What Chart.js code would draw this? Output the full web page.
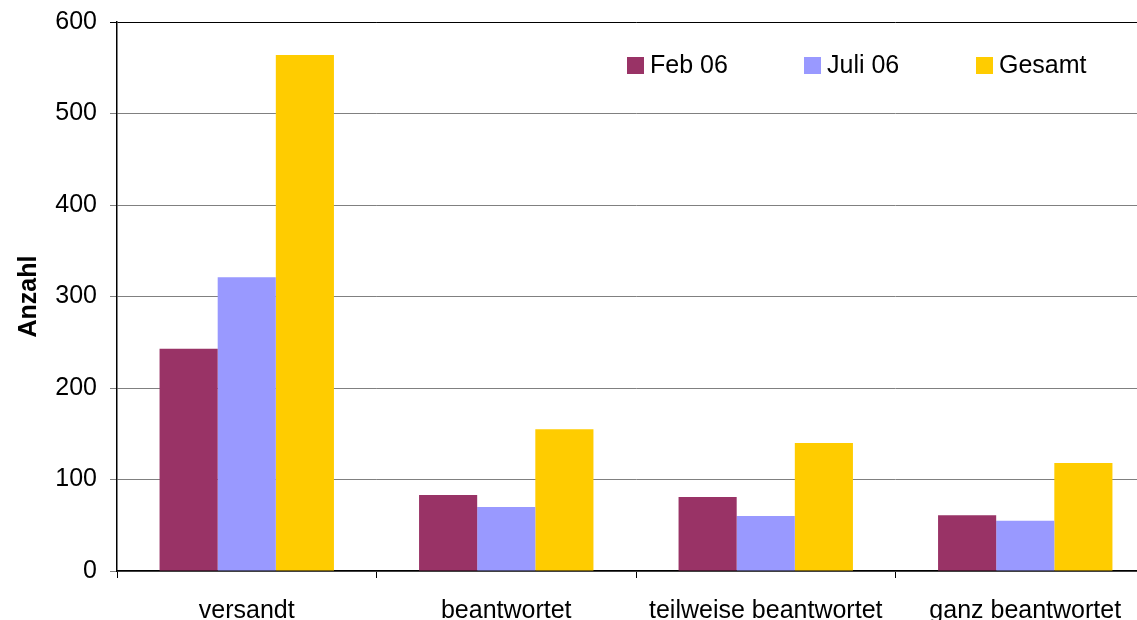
<!DOCTYPE html>
<html>
<head>
<meta charset="utf-8">
<script src="https://cdn.jsdelivr.net/npm/chart.js@4/dist/chart.umd.min.js"></script>
<style>
  html, body { margin: 0; padding: 0; overflow: hidden; background: #fff; }
  #wrap { width: 1137px; height: 620px; overflow: hidden; }
  canvas { display: block; }
</style>
</head>
<body>
<div id="wrap"><canvas id="c" width="1160" height="620"></canvas></div>
<script>
const categories = ['versandt', 'beantwortet', 'teilweise beantwortet', 'ganz beantwortet'];
const seriesNames = ['Feb 06', 'Juli 06', 'Gesamt'];
const feb06 = [243, 83, 81, 61];
const juli06 = [321, 70, 60, 55];
const gesamt = [564, 155, 140, 118];
const seriesColors = ['#993366', '#9999FF', '#FFCC00'];
const yTitle = 'Anzahl';

const FONT = 'Arial, "Liberation Sans", sans-serif';

const legendPlugin = {
  id: 'customLegend',
  afterDraw(chart) {
    const ctx = chart.ctx;
    const xs = [627, 804, 976];
    const y = 57, box = 17;
    ctx.save();
    ctx.font = '25px ' + FONT;
    ctx.textBaseline = 'middle';
    ctx.textAlign = 'left';
    chart.data.datasets.forEach((ds, i) => {
      ctx.fillStyle = ds.backgroundColor;
      ctx.fillRect(xs[i], y, box, box);
      ctx.fillStyle = '#000';
      ctx.fillText(ds.label, xs[i] + box + 6, y + box / 2 + 1);
    });
    ctx.restore();
  }
};

const allSeries = [feb06, juli06, gesamt];

new Chart(document.getElementById('c'), {
  type: 'bar',
  data: {
    labels: categories,
    datasets: seriesNames.map((n, i) => ({
      label: n,
      data: allSeries[i],
      backgroundColor: seriesColors[i],
      borderWidth: 0,
      barPercentage: 1.0,
      categoryPercentage: 0.672
    }))
  },
  options: {
    responsive: false,
    animation: false,
    devicePixelRatio: 1,
    layout: { padding: { top: 22, right: 5, left: 0, bottom: 0 } },
    plugins: { legend: { display: false }, tooltip: { enabled: false } },
    scales: {
      x: {
        offset: true,
        grid: {
          offset: true,
          drawOnChartArea: false,
          drawTicks: true,
          tickLength: 7,
          color: '#000'
        },
        border: { color: '#000', width: 1.5 },
        ticks: {
          color: '#000',
          font: { family: FONT, size: 25 },
          padding: 18,
          maxRotation: 0,
          autoSkip: false
        },
        afterFit(scale) { scale.height = 49; scale.paddingLeft = 0; scale.paddingRight = 0; }
      },
      y: {
        min: 0,
        max: 600,
        grid: {
          color: (ctx) => (ctx.tick && ctx.tick.value === 600 ? '#000' : '#808080'),
          tickLength: 7,
          lineWidth: 1
        },
        border: { color: '#000', width: 1.5 },
        ticks: {
          stepSize: 100,
          color: '#000',
          font: { family: FONT, size: 25 },
          padding: 13
        },
        title: {
          display: true,
          text: yTitle,
          color: '#000',
          font: { family: FONT, size: 25, weight: 'bold' },
          padding: { top: 14, bottom: 0 }
        },
        afterFit(scale) { scale.width = 117; scale.paddingTop = 0; scale.paddingBottom = 0; }
      }
    }
  },
  plugins: [legendPlugin]
});
</script>
</body>
</html>
